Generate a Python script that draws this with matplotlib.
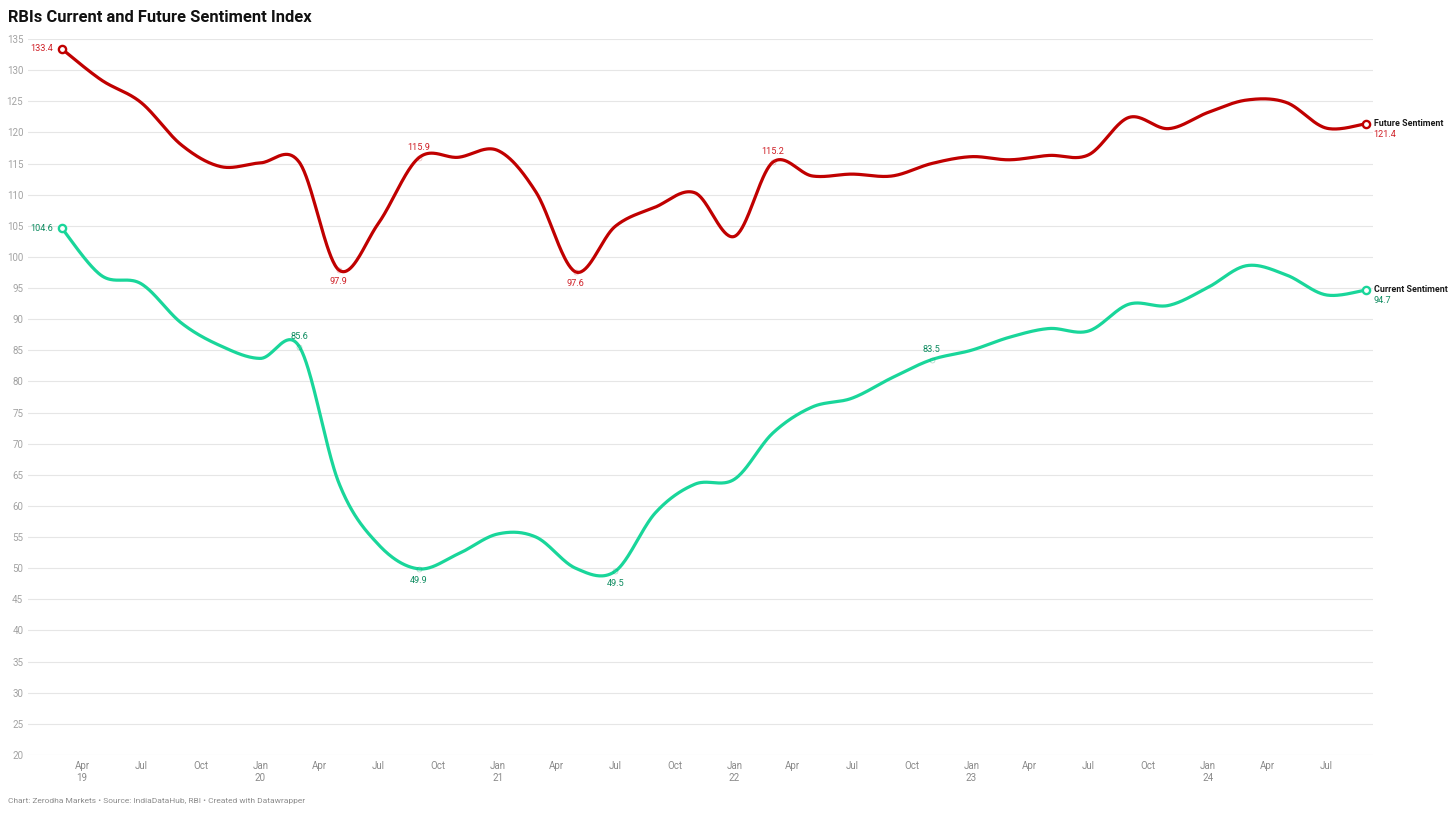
import numpy as np
import matplotlib
matplotlib.use("Agg")
import matplotlib.pyplot as plt

# ---------------- data ----------------
dates = ["2019-03-01", "2019-05-01", "2019-07-01", "2019-09-01", "2019-11-01",
         "2020-01-01", "2020-03-01", "2020-05-01", "2020-07-01", "2020-09-01", "2020-11-01",
         "2021-01-01", "2021-03-01", "2021-05-01", "2021-07-01", "2021-09-01", "2021-11-01",
         "2022-01-01", "2022-03-01", "2022-05-01", "2022-07-01", "2022-09-01", "2022-11-01",
         "2023-01-01", "2023-03-01", "2023-05-01", "2023-07-01", "2023-09-01", "2023-11-01",
         "2024-01-01", "2024-03-01", "2024-05-01", "2024-07-01", "2024-09-01"]

current = [104.6, 97.0, 95.7, 89.4, 85.7,
           83.7, 85.6, 63.7, 53.8, 49.9, 52.3,
           55.5, 55.0, 50.0, 49.5, 58.9, 63.5,
           64.3, 71.7, 75.9, 77.3, 80.6, 83.5,
           85.0, 87.1, 88.5, 88.1, 92.4, 92.2,
           95.1, 98.6, 97.1, 93.9, 94.7]

future = [133.4, 128.4, 124.8, 118.0, 114.5,
          115.1, 115.2, 97.9, 105.4, 115.9, 116.0,
          117.1, 110.4, 97.6, 104.9, 108.0, 110.3,
          103.3, 115.2, 113.0, 113.3, 113.0, 115.0,
          116.1, 115.6, 116.3, 116.4, 122.4, 120.6,
          123.2, 125.2, 124.8, 120.7, 121.4]

tick_dates = ["2019-04-01", "2019-07-01", "2019-10-01", "2020-01-01", "2020-04-01", "2020-07-01",
              "2020-10-01", "2021-01-01", "2021-04-01", "2021-07-01", "2021-10-01", "2022-01-01",
              "2022-04-01", "2022-07-01", "2022-10-01", "2023-01-01", "2023-04-01", "2023-07-01",
              "2023-10-01", "2024-01-01", "2024-04-01", "2024-07-01"]
tick_labels = ["Apr\n19", "Jul", "Oct", "Jan\n20", "Apr", "Jul", "Oct", "Jan\n21", "Apr", "Jul",
               "Oct", "Jan\n22", "Apr", "Jul", "Oct", "Jan\n23", "Apr", "Jul", "Oct", "Jan\n24",
               "Apr", "Jul"]
y_ticks = list(range(20, 136, 5))

series_names = ["Future Sentiment", "Current Sentiment"]
# labelled points: (index, position)
future_labels = [(0, "left"), (7, "below"), (9, "above"), (13, "below"), (18, "above")]
current_labels = [(0, "left"), (6, "above"), (9, "below"), (14, "below"), (22, "above")]

# ---------------- style ----------------
RED = "#c00000"
RED_TXT = "#cf2027"
GREEN = "#19d69a"
GREEN_TXT = "#0e8c60"
FONT = ["Roboto", "DejaVu Sans"]
plt.rcParams["font.family"] = FONT


def days(s):
    return np.array(s, dtype="datetime64[D]").astype(float)


def cardinal(x, y, n=40):
    P = np.column_stack([x, y]).astype(float)
    E = np.vstack([P[0], P, P[-1]])
    pts = []
    for i in range(len(P) - 1):
        p0, p1, p2, p3 = E[i], E[i + 1], E[i + 2], E[i + 3]
        m1 = (p2 - p0) / 2.0
        m2 = (p3 - p1) / 2.0
        t = np.linspace(0, 1, n, endpoint=(i == len(P) - 2))[:, None]
        h00 = 2 * t**3 - 3 * t**2 + 1
        h10 = t**3 - 2 * t**2 + t
        h01 = -2 * t**3 + 3 * t**2
        h11 = t**3 - t**2
        pts.append(h00 * p1 + h10 * m1 + h01 * p2 + h11 * m2)
    pts = np.vstack(pts)
    return pts[:, 0], pts[:, 1]


W, H = 1456, 814
fig = plt.figure(figsize=(W / 100, H / 100), dpi=100)
fig.patch.set_facecolor("white")
ax = fig.add_axes([28 / W, (H - 755) / H, (1373 - 28) / W, (755 - 39) / H])

xd = days(dates)
ax.set_xlim(xd[0] - 52.3, xd[-1] + 10.5)
ax.set_ylim(20, 135)

for spine in ax.spines.values():
    spine.set_visible(False)
ax.set_yticks(y_ticks)
ax.set_yticklabels([str(v) for v in y_ticks])
ax.yaxis.grid(True, color="#e6e6e6", linewidth=0.8)
ax.set_axisbelow(True)
ax.tick_params(axis="y", length=0, pad=3.4, labelsize=7, labelcolor="#a3a3a3")
for lab in ax.get_yticklabels():
    lab.set_horizontalalignment("right")

ax.set_xticks(days(tick_dates))
ax.set_xticklabels(tick_labels)
ax.tick_params(axis="x", length=0, pad=4.0, labelsize=7, labelcolor="#8a8a8a")
for lab in ax.get_xticklabels():
    lab.set_linespacing(1.25)

for vals, color, txtcolor, labels, name in [
        (future, RED, RED_TXT, future_labels, series_names[0]),
        (current, GREEN, GREEN_TXT, current_labels, series_names[1])]:
    sx, sy = cardinal(xd, vals)
    ax.plot(sx, sy, color=color, linewidth=2.3, solid_capstyle="round", clip_on=False, zorder=3)
    # end markers
    for i in (0, len(vals) - 1):
        ax.plot(xd[i], vals[i], marker="o", markersize=5.2, markerfacecolor="white",
                markeredgecolor=color, markeredgewidth=1.7, zorder=5, clip_on=False)
    for i, pos in labels:
        txt = f"{vals[i]:.1f}"
        if pos == "left":
            ax.annotate(txt, (xd[i], vals[i]), xytext=(-6.5, 0), textcoords="offset points",
                        ha="right", va="center", fontsize=6.6, color=txtcolor)
        else:
            ax.plot(xd[i], vals[i], marker="o", markersize=3.6, markerfacecolor="none",
                    markeredgecolor=txtcolor, markeredgewidth=0.5, alpha=0.35, zorder=4)
            dy = 7.5 if pos == "above" else -8.5
            ax.annotate(txt, (xd[i], vals[i]), xytext=(0, dy), textcoords="offset points",
                        ha="center", va="center", fontsize=6.6, color=txtcolor, zorder=6)
    last = len(vals) - 1
    ax.annotate(name, (xd[last], vals[last]), xytext=(5.3, 0.3), textcoords="offset points",
                ha="left", va="center", fontsize=6.4, fontweight="bold", color="#1a1a1a",
                annotation_clip=False)
    ax.annotate(f"{vals[last]:.1f}", (xd[last], vals[last]), xytext=(5.3, -7.6),
                textcoords="offset points", ha="left", va="center", fontsize=6.6,
                color=txtcolor, annotation_clip=False)

fig.text(8 / W, 1 - 17 / H, "RBIs Current and Future Sentiment Index", fontsize=11.9,
         fontweight="bold", color="#111111", ha="left", va="center")
fig.text(8 / W, 1 - 801 / H,
         "Chart: Zerodha Markets \u2022 Source: IndiaDataHub, RBI \u2022 Created with Datawrapper",
         fontsize=6.0, color="#8c8c8c", ha="left", va="center")

fig.savefig("out.png", dpi=100, facecolor="white")
